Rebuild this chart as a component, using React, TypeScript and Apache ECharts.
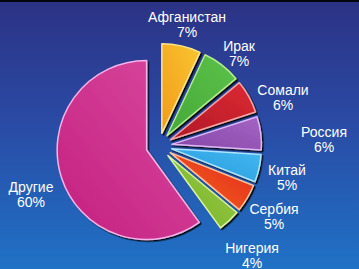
import React, { useEffect, useRef } from 'react';
import * as echarts from 'echarts';

const categories = ['Афганистан', 'Ирак', 'Сомали', 'Россия', 'Китай', 'Сербия', 'Нигерия', 'Другие'];
const values = [7, 7, 6, 6, 5, 5, 4, 60];

const colorsA = ['#f39a1c', '#45a838', '#b01828', '#8646a6', '#2498dc', '#f26a1e', '#74b22c', '#c42080'];
const colorsB = ['#f8c630', '#5cc24a', '#dc2a32', '#a464c4', '#44b8f0', '#e42420', '#9cca42', '#d94a9e'];
const borders = ['#fde58a', '#b4ec8e', '#f4a6a6', '#dcb6f4', '#aee4ff', '#ffc4a0', '#d8f4a6', '#f2b4ea'];

// label block centres: [x, y]
const labelPos: [number, number][] = [
  [187, 24],
  [239, 53],
  [283, 97],
  [324, 139],
  [287, 177],
  [274, 216],
  [252, 255],
  [31, 194],
];

export default function App() {
  const ref = useRef<HTMLDivElement>(null);
  useEffect(() => {
    if (!ref.current) return;
    const chart = echarts.init(ref.current, undefined, { renderer: 'svg' });
    const data = categories.map((name, i) => {
      const style = {
        color: new echarts.graphic.LinearGradient(0, 1, 1, 0, [
          { offset: 0, color: colorsA[i] },
          { offset: 1, color: colorsB[i] },
        ]),
        borderColor: borders[i],
        borderWidth: 1.5,
        shadowColor: 'rgba(0,0,0,0.9)',
        shadowBlur: 1,
        shadowOffsetX: 1.5,
        shadowOffsetY: 1.5,
      };
      return {
        name,
        value: values[i],
        selected: true,
        itemStyle: style,
        select: { itemStyle: style },
      };
    });
    const font = '14px "Liberation Sans", Arial, sans-serif';
    const texts = categories.map((name, i) => ({
      type: 'text',
      x: labelPos[i][0],
      y: labelPos[i][1],
      z: 50,
      style: {
        text: name + '\n' + values[i] + '%',
        fill: '#ffffff',
        font,
        lineHeight: 15,
        align: 'center',
        verticalAlign: 'middle',
      },
    }));
    chart.setOption({
      animation: false,
      graphic: [
        { type: 'rect', shape: { x: 0, y: 0, width: 359, height: 2 }, style: { fill: '#050510' }, z: 100 },
        ...texts,
      ],
      series: [
        {
          type: 'pie',
          center: [159, 146],
          radius: 89.5,
          startAngle: 90,
          clockwise: true,
          selectedMode: 'multiple',
          selectedOffset: 13,
          avoidLabelOverlap: false,
          emphasis: { disabled: true },
          label: { show: false },
          labelLine: { show: false },
          data,
        },
      ],
    });
    return () => chart.dispose();
  }, []);
  return (
    <div
      ref={ref}
      style={{
        position: 'absolute',
        left: 0,
        top: 0,
        width: 359,
        height: 269,
        background: 'linear-gradient(180deg, #2c3284 0%, #2a4aa4 45%, #1f72c6 100%)',
      }}
    />
  );
}
